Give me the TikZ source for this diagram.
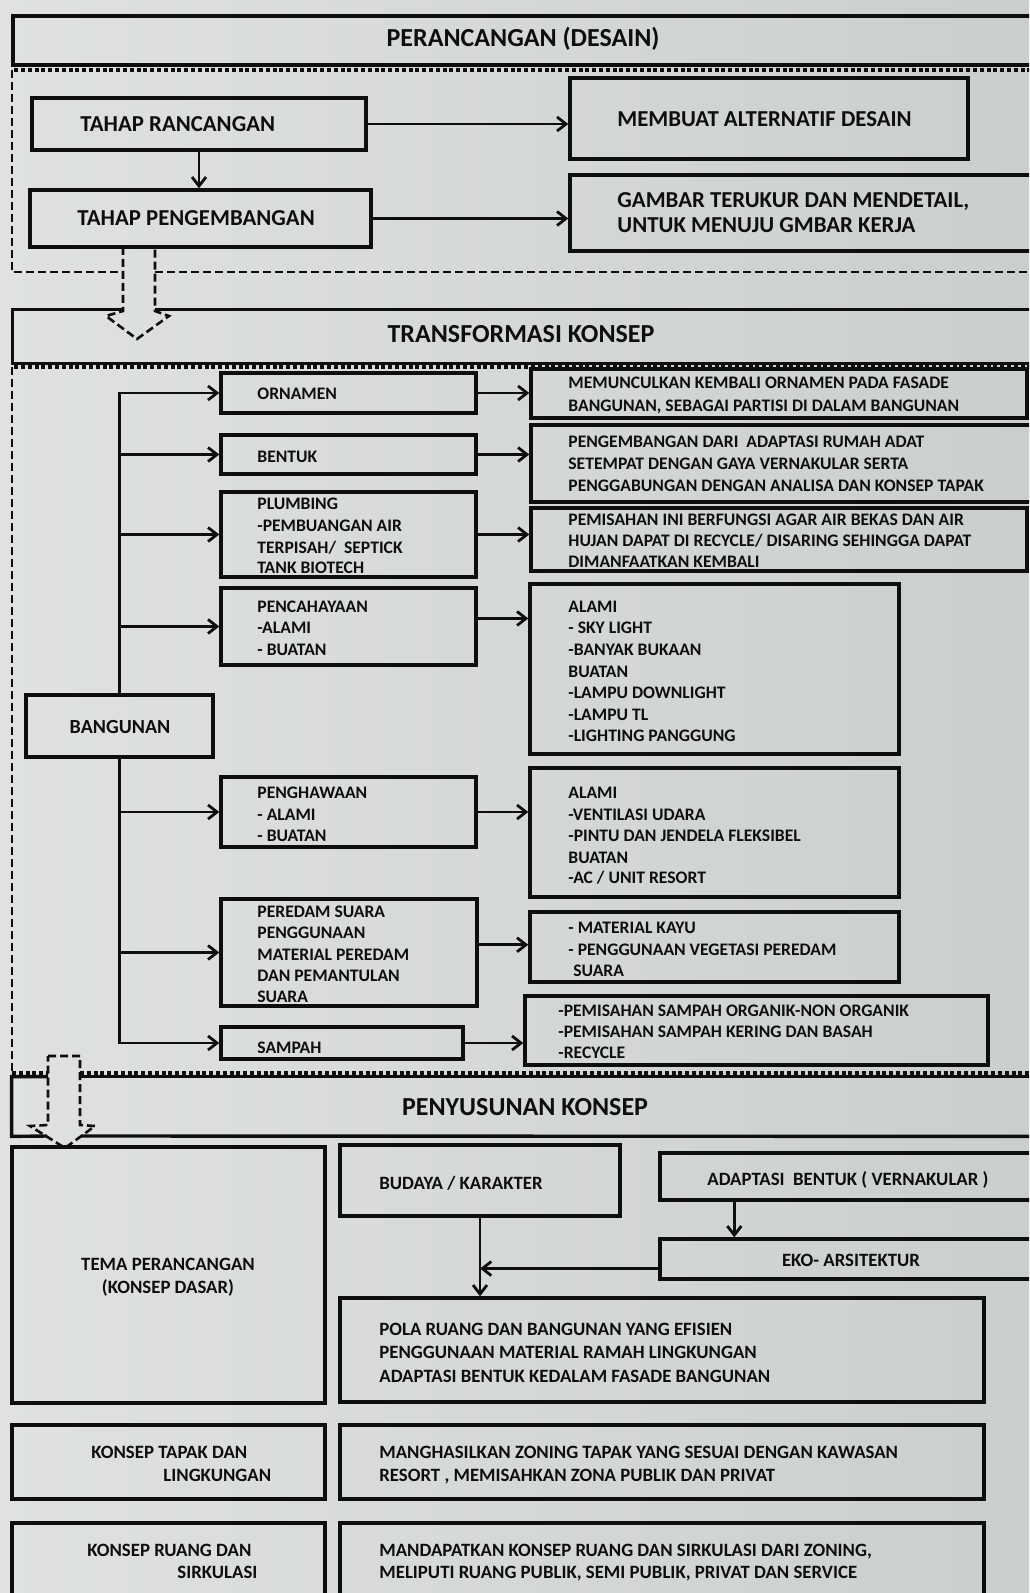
\documentclass[tikz,border=0pt]{standalone}
\usepackage{fontspec}
\setmainfont{Carlito}
\usetikzlibrary{arrows.meta,fit,calc}
\definecolor{bgL}{HTML}{DFE2DF}
\definecolor{bgR}{HTML}{CBCFCC}
\definecolor{ink}{HTML}{0E0E0E}
\tikzset{
 box/.style={draw=ink, line width=1.7pt, inner sep=0pt, rectangle},
 boxnd/.style={inner sep=0pt, rectangle},
 edge/.style={draw=ink, line width=1.7pt},
 dsh/.style={draw=ink, line width=1.3pt, dash pattern=on 4pt off 2pt},
 dshtop/.style={draw=ink, line width=1.6pt, dash pattern=on 2pt off 1.4pt},
 arr/.style={draw=ink, line width=1.4pt, -{Straight Barb[length=4.5pt,width=7pt]}},
 lbl/.style={anchor=base west, inner sep=0pt, text=ink, font=\bfseries\fontsize{8.8}{11}\selectfont},
 lblA/.style={lbl, font=\bfseries\fontsize{11.4}{13}\selectfont},
 lblH/.style={anchor=base, inner sep=0pt, text=ink, font=\bfseries\fontsize{13}{15}\selectfont},
 lblB/.style={anchor=base, inner sep=0pt, text=ink, font=\bfseries\fontsize{10}{12}\selectfont},
 lblC/.style={lbl, font=\bfseries\fontsize{9.4}{11.5}\selectfont},
 lblCc/.style={lblC, anchor=base},
}
\begin{document}
\begin{tikzpicture}[x=0.5pt,y=-0.5pt]
\useasboundingbox (0,0) rectangle (1029,1593);
\clip (0,0) rectangle (1029,1593);
\shade[left color=bgL,right color=bgR] (0,0) rectangle (1029,1593);

% ---------- section 1 ----------
\node[box, fit={(13,16) (1045,65)}] (hdr) {};
\node[lblH] (t-hdr) at (523,47) {PERANCANGAN (DESAIN)};
\draw[dshtop] (1045,70) -- (12,70);
\draw[dsh] (12,70) -- (12,272) -- (123,272);
\draw[dsh] (155,272) -- (1045,272);

\node[box, fit={(32,98) (366,150)}] (tr) {};
\node[lblA] (t-tr) at (80,132) {TAHAP RANCANGAN};
\node[box, fit={(30,190) (371,247)}] (tp) {};
\node[lblA] (t-tp) at (77,226) {TAHAP PENGEMBANGAN};
\node[box, fit={(570,78) (968,159)}] (mem) {};
\node[lblA] (t-mem) at (617,127) {MEMBUAT ALTERNATIF DESAIN};
\node[box, fit={(570,175) (1045,251)}] (gam) {};
\node[lblA] (t-gam1) at (617,208) {GAMBAR TERUKUR DAN MENDETAIL,};
\node[lblA] (t-gam2) at (617,233) {UNTUK MENUJU GMBAR KERJA};
\draw[arr] (tr.east) -- (tr.east -| mem.west);
\draw[arr] (tp.east) -- (tp.east -| gam.west);
\draw[arr] (tr.south) -- (tr.south |- tp.north);

% dashed hollow arrow 1
\coordinate (d1l) at (123,247);
\coordinate (d1r) at (155,247);
\draw[dsh] (d1l) -- (123,311) -- (106,316) -- (137,339) -- (169,316) -- (155,311) -- (d1r);

% ---------- section 2 ----------
\node[boxnd, fit={(13,310) (1045,363)}] (tk) {};
\draw[edge] (d1l |- tk.north) -- (tk.north west) -- (tk.south west) -- (tk.south east);
\draw[edge] (d1r |- tk.north) -- (tk.north east);
\node[lblH] (t-tk) at (521,343) {TRANSFORMASI KONSEP};

\draw[dshtop] (1045,367) -- (12,367);
\draw[dsh] (12,367) -- (12,1073);
\draw[dshtop] (12,1073) -- (48,1073);
\draw[dshtop] (80,1073) -- (1045,1073);

\node[box, fit={(26,695) (213,757)}] (bang) {};
\node[lblB] (t-bang) at (120,733) {BANGUNAN};

\node[box, fit={(221,373) (476,413)}] (orn) {};
\node[lbl] (t-orn) at (257,400) {ORNAMEN};
\node[box, fit={(221,435) (476,474)}] (ben) {};
\node[lbl] (t-ben) at (257,462) {BENTUK};
\node[box, fit={(221,492) (476,577)}] (pl) {};
\node[lbl] (t-pl1) at (257,509) {PLUMBING};
\node[lbl] (t-pl2) at (257,531) {-PEMBUANGAN AIR};
\node[lbl] (t-pl3) at (257,553) {TERPISAH/~ SEPTICK};
\node[lbl] (t-pl4) at (257,573) {TANK BIOTECH};
\node[box, fit={(221,588) (476,665)}] (pc) {};
\node[lbl] (t-pc1) at (257,612) {PENCAHAYAAN};
\node[lbl] (t-pc2) at (257,633) {-ALAMI};
\node[lbl] (t-pc3) at (257,655) {- BUATAN};
\node[box, fit={(221,777) (476,847)}] (ph) {};
\node[lbl] (t-ph1) at (257,798) {PENGHAWAAN};
\node[lbl] (t-ph2) at (257,820) {- ALAMI};
\node[lbl] (t-ph3) at (257,841) {- BUATAN};
\node[box, fit={(221,899) (477,1006)}] (pr) {};
\node[lbl] (t-pr1) at (257,917) {PEREDAM SUARA};
\node[lbl] (t-pr2) at (257,938) {PENGGUNAAN};
\node[lbl] (t-pr3) at (257,960) {MATERIAL PEREDAM};
\node[lbl] (t-pr4) at (257,981) {DAN PEMANTULAN};
\node[lbl] (t-pr5) at (257,1002) {SUARA};
\node[box, fit={(221,1027) (463,1059)}] (sp) {};
\node[lbl] (t-sp) at (257,1053) {SAMPAH};

\node[box, fit={(531,369) (1027,418)}] (r1) {};
\node[lbl] (t-r1a) at (568,389) {MEMUNCULKAN KEMBALI ORNAMEN PADA FASADE};
\node[lbl] (t-r1b) at (568,412) {BANGUNAN, SEBAGAI PARTISI DI DALAM BANGUNAN};
\node[box, fit={(531,425) (1045,502)}] (r2) {};
\node[lbl] (t-r2a) at (568,447) {PENGEMBANGAN DARI~ ADAPTASI RUMAH ADAT};
\node[lbl] (t-r2b) at (568,469) {SETEMPAT DENGAN GAYA VERNAKULAR SERTA};
\node[lbl] (t-r2c) at (568,491) {PENGGABUNGAN DENGAN ANALISA DAN KONSEP TAPAK};
\node[box, fit={(531,508) (1027,571)}] (r3) {};
\node[lbl] (t-r3a) at (568,525) {PEMISAHAN INI BERFUNGSI AGAR AIR BEKAS DAN AIR};
\node[lbl] (t-r3b) at (568,546) {HUJAN DAPAT DI RECYCLE/ DISARING SEHINGGA DAPAT};
\node[lbl] (t-r3c) at (568,567) {DIMANFAATKAN KEMBALI};
\node[box, fit={(530,584) (899,754)}] (r4) {};
\node[lbl] (t-r4a) at (568,612) {ALAMI};
\node[lbl] (t-r4b) at (568,633) {- SKY LIGHT};
\node[lbl] (t-r4c) at (568,655) {-BANYAK BUKAAN};
\node[lbl] (t-r4d) at (568,677) {BUATAN};
\node[lbl] (t-r4e) at (568,698) {-LAMPU DOWNLIGHT};
\node[lbl] (t-r4f) at (568,720) {-LAMPU TL};
\node[lbl] (t-r4g) at (568,741) {-LIGHTING PANGGUNG};
\node[box, fit={(530,768) (899,897)}] (r5) {};
\node[lbl] (t-r5a) at (568,798) {ALAMI};
\node[lbl] (t-r5b) at (568,820) {-VENTILASI UDARA};
\node[lbl] (t-r5c) at (568,841) {-PINTU DAN JENDELA FLEKSIBEL};
\node[lbl] (t-r5d) at (568,863) {BUATAN};
\node[lbl] (t-r5e) at (568,883) {-AC / UNIT RESORT};
\node[box, fit={(530,912) (899,982)}] (r6) {};
\node[lbl] (t-r6a) at (568,933) {- MATERIAL KAYU};
\node[lbl] (t-r6b) at (568,955) {- PENGGUNAAN VEGETASI PEREDAM};
\node[lbl] (t-r6c) at (573,976) {SUARA};
\node[box, fit={(525,996) (988,1065)}] (r7) {};
\node[lbl] (t-r7a) at (558,1016) {-PEMISAHAN SAMPAH ORGANIK-NON ORGANIK};
\node[lbl] (t-r7b) at (558,1037) {-PEMISAHAN SAMPAH KERING DAN BASAH};
\node[lbl] (t-r7c) at (558,1058) {-RECYCLE};

\draw[arr] (bang.north) |- (orn.west);
\draw[arr] (bang.north) |- (ben.west);
\draw[arr] (bang.north) |- (pl.west);
\draw[arr] (bang.north) |- (pc.west);
\draw[arr] (bang.south) |- (ph.west);
\draw[arr] (bang.south) |- (pr.west);
\draw[arr] (bang.south) |- (sp.west);

\draw[arr] (orn.east) -- (orn.east -| r1.west);
\draw[arr] (ben.east) -- (ben.east -| r2.west);
\draw[arr] (pl.east) -- (pl.east -| r3.west);
\coordinate (pcx) at ($(pc.north east)!0.4!(pc.south east)$);
\draw[arr] (pcx) -- (pcx -| r4.west);
\draw[arr] (ph.east) -- (ph.east -| r5.west);
\coordinate (prx) at ($(pr.north east)!0.43!(pr.south east)$);
\draw[arr] (prx) -- (prx -| r6.west);
\draw[arr] (sp.east) -- (sp.east -| r7.west);

% dashed hollow arrow 2
\coordinate (d2l) at (48,1056);
\coordinate (d2r) at (80,1056);
\draw[dsh] (d2l) -- (d2r) -- (80,1125) -- (95,1126) -- (65,1148) -- (30,1126) -- (48,1125) -- cycle;

% ---------- section 3 ----------
\node[boxnd, fit={(12,1077) (1045,1136)}] (ps) {};
\draw[edge] (d2l |- ps.north) -- (ps.north west) -- (ps.south west) -- (47,1136);
\draw[edge] (d2r |- ps.north) -- (ps.north east);
\draw[edge] (81,1136) -- (ps.south east);
\node[lblH] (t-ps) at (525,1115) {PENYUSUNAN KONSEP};

\node[box, fit={(12,1147) (325,1403)}] (tema) {};
\node[lblCc] (t-tema1) at (168,1270) {TEMA PERANCANGAN};
\node[lblCc] (t-tema2) at (168,1293) {(KONSEP DASAR)};
\node[box, fit={(340,1145) (620,1216)}] (bud) {};
\node[lblC] (t-bud) at (379,1189) {BUDAYA / KARAKTER};
\node[box, fit={(660,1153) (1045,1200)}] (adp) {};
\node[lblC] (t-adp) at (707,1185) {ADAPTASI~ BENTUK ( VERNAKULAR )};
\node[box, fit={(660,1239) (1045,1279)}] (eko) {};
\node[lblCc] (t-eko) at (851,1266) {EKO- ARSITEKTUR};
\node[box, fit={(340,1298) (984,1402)}] (pola) {};
\node[lblC] (t-pola1) at (379,1335) {POLA RUANG DAN BANGUNAN YANG EFISIEN};
\node[lblC] (t-pola2) at (379,1358) {PENGGUNAAN MATERIAL RAMAH LINGKUNGAN};
\node[lblC] (t-pola3) at (379,1382) {ADAPTASI BENTUK KEDALAM FASADE BANGUNAN};

\draw[arr] (bud.south) -- (bud.south |- pola.north);
\coordinate (ax) at ($(adp.south west)+(76,0)$);
\draw[arr] (ax) -- (ax |- eko.north);
\coordinate (ex) at ($(eko.north west)!0.72!(eko.south west)$);
\draw[arr] (ex) -- (ex -| bud.south);

\node[box, fit={(12,1425) (325,1499)}] (kt) {};
\node[lblC] (t-kt1) at (91,1458) {KONSEP TAPAK DAN};
\node[lblC] (t-kt2) at (163,1481) {LINGKUNGAN};
\node[box, fit={(340,1425) (984,1499)}] (mh) {};
\node[lblC] (t-mh1) at (379,1458) {MANGHASILKAN ZONING TAPAK YANG SESUAI DENGAN KAWASAN};
\node[lblC] (t-mh2) at (379,1481) {RESORT , MEMISAHKAN ZONA PUBLIK DAN PRIVAT};
\node[box, fit={(12,1523) (325,1620)}] (kr) {};
\node[lblC] (t-kr1) at (87,1556) {KONSEP RUANG DAN};
\node[lblC] (t-kr2) at (177,1578) {SIRKULASI};
\node[box, fit={(340,1523) (984,1620)}] (md) {};
\node[lblC] (t-md1) at (379,1556) {MANDAPATKAN KONSEP RUANG DAN SIRKULASI DARI ZONING,};
\node[lblC] (t-md2) at (379,1578) {MELIPUTI RUANG PUBLIK, SEMI PUBLIK, PRIVAT DAN SERVICE};
\end{tikzpicture}
\end{document}
